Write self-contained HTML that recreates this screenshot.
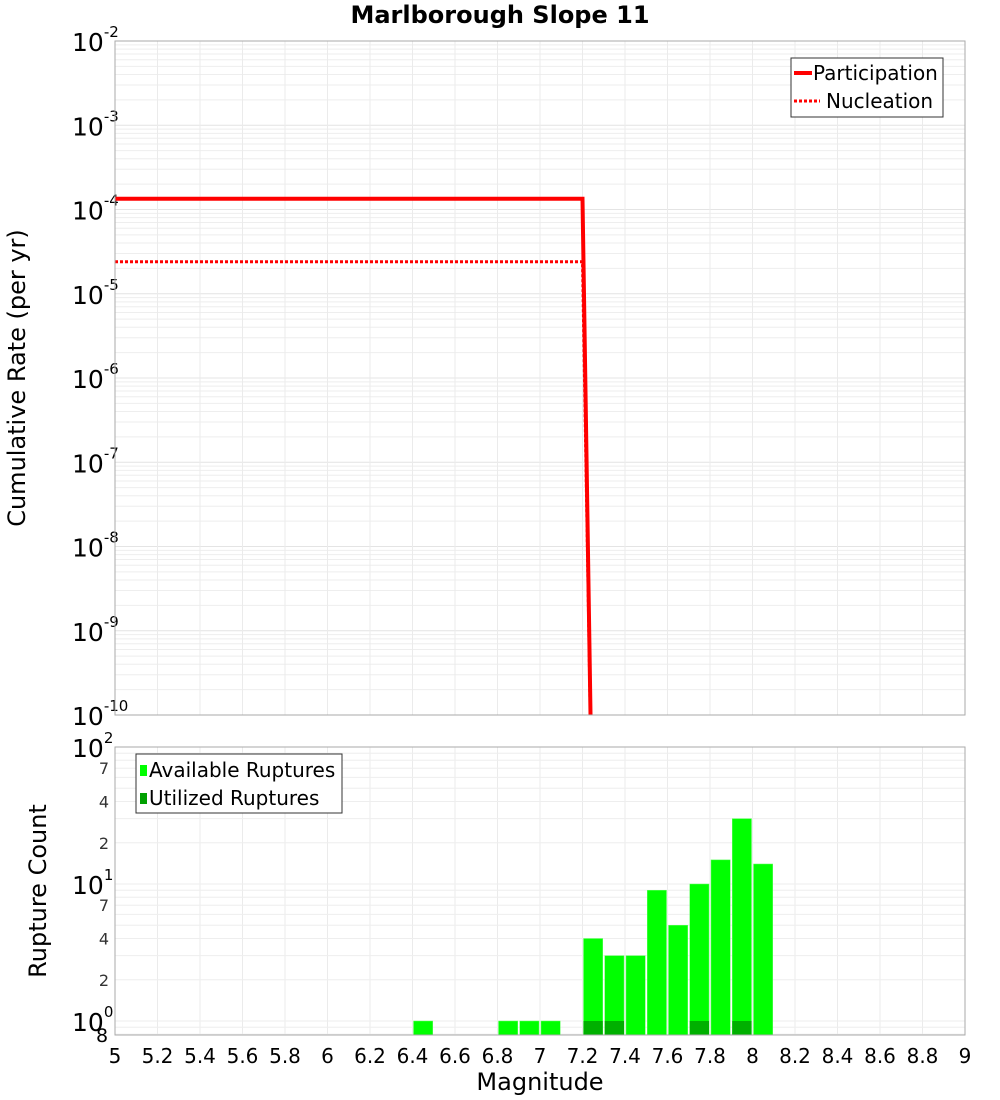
<!DOCTYPE html>
<html><head><meta charset="utf-8"><style>
body{margin:0;background:#fff;font-family:"Liberation Sans","DejaVu Sans",sans-serif}
svg{display:block}
</style></head><body>
<svg id="c" width="1000" height="1100" xmlns="http://www.w3.org/2000/svg" font-family="DejaVu Sans, Liberation Sans, sans-serif">
<text x="500" y="23" text-anchor="middle" font-size="24" font-weight="bold">Marlborough Slope 11</text>
<text transform="translate(25,378) rotate(-90)" text-anchor="middle" font-size="24">Cumulative Rate (per yr)</text>
<text transform="translate(46,891) rotate(-90)" text-anchor="middle" font-size="24">Rupture Count</text>
<text x="540" y="1090" text-anchor="middle" font-size="24">Magnitude</text>
<g id="topg"></g><g id="botg"></g>
</svg>
<script>
const partMags=[5,7.2,7.25];
const partVals=[1.34e-4,1.34e-4,1e-12];
const nuclMags=[5,7.2,7.25];
const nuclVals=[2.4e-5,2.4e-5,1e-12];
const binCenters=[6.45,6.85,6.95,7.05,7.25,7.35,7.45,7.55,7.65,7.75,7.85,7.95,8.05];
const availCounts=[1,1,1,1,4,3,3,9,5,10,15,30,14];
const utilCounts=[0,0,0,0,1,1,0,0,0,1,0,1,0];
const xTicks=[5,5.2,5.4,5.6,5.8,6,6.2,6.4,6.6,6.8,7,7.2,7.4,7.6,7.8,8,8.2,8.4,8.6,8.8,9];
const topExps=[-2,-3,-4,-5,-6,-7,-8,-9,-10];
const botMinor=[2,4,7];

const NS='http://www.w3.org/2000/svg';
function mk(p,t,a){const e=document.createElementNS(NS,t);for(const k in a)e.setAttribute(k,a[k]);p.appendChild(e);return e;}
const L=115,R=965;
const X=m=>L+(m-5)/4*(R-L);
const tT=41,tB=715;
const Yt=v=>tT+(-2-Math.log10(v))/8*(tB-tT);
const bT=747,bB=1035,b0=1021,bd=137;
const Yb=v=>b0-Math.log10(v)*bd;

const gTop=document.getElementById('topg'),gBot=document.getElementById('botg');
for(let e=-10;e<-2;e++)for(let k=1;k<10;k++){const y=Yt(k*Math.pow(10,e));
 const l=mk(gTop,'line',{x1:L,x2:R,y1:y,y2:y,stroke:k==1?'#e4e4e4':'#eeeeee','stroke-width':1});
 
 }
xTicks.forEach(t=>{[gTop,gBot].forEach((g,i)=>{const l=mk(g,'line',{x1:X(t),x2:X(t),y1:i?bT:tT,y2:i?bB:tB,stroke:'#ebebeb'});
 
 });});
topExps.forEach(e=>{const y=Yt(Math.pow(10,e));
 const t=mk(gTop,'text',{x:72,y:y+10,'font-size':25});t.textContent='10';
 
 
 const s=mk(t,'tspan',{dy:-14,'font-size':15});s.textContent=String(e);});
const clip=mk(gTop,'clipPath',{id:'tc'});mk(clip,'rect',{x:L,y:tT,width:R-L,height:tB-tT});
function path(ms,vs){return ms.map((m,i)=>(i?'L':'M')+X(m)+','+Yt(vs[i])).join(' ');}
let p=mk(gTop,'path',{d:path(nuclMags,nuclVals),fill:'none',stroke:'#ff0000','stroke-width':3,'stroke-dasharray':'3,2','clip-path':'url(#tc)'});


p=mk(gTop,'path',{d:path(partMags,partVals),fill:'none',stroke:'#ff0000','stroke-width':4,'clip-path':'url(#tc)'});


let b=mk(gTop,'rect',{x:L,y:tT,width:R-L,height:tB-tT,fill:'none',stroke:'#aaaaaa'});


const lg=mk(gTop,'g',{});


mk(lg,'rect',{x:791,y:58,width:152,height:59,fill:'#fff',stroke:'#333'});
mk(lg,'line',{x1:794,x2:812,y1:73,y2:73,stroke:'#f00','stroke-width':4});
mk(lg,'line',{x1:794,x2:820,y1:101,y2:101,stroke:'#f00','stroke-width':3,'stroke-dasharray':'3,2'});
let tx=mk(lg,'text',{x:813,y:80,'font-size':20});tx.textContent='Participation';


tx=mk(lg,'text',{x:826,y:108,'font-size':20});tx.textContent='Nucleation';


for(let e=-1;e<2;e++)for(let k=1;k<10;k++){const y=Yb(k*Math.pow(10,e));if(y<bT||y>bB)continue;
 const l=mk(gBot,'line',{x1:L,x2:R,y1:y,y2:y,stroke:'#eeeeee'});
 
 }
[0,1,2].forEach(e=>{const y=Yb(Math.pow(10,e));
 const t=mk(gBot,'text',{x:72,y:y+10,'font-size':25});t.textContent='10';
 
 
 const s=mk(t,'tspan',{dy:-14,'font-size':15});s.textContent=String(e);});
[0,1].forEach(e=>botMinor.forEach(k=>{const y=Yb(k*Math.pow(10,e));
 const t=mk(gBot,'text',{x:104,y:y+6,'font-size':16,'text-anchor':'middle',fill:'#333'});t.textContent=k;
 
 }));
let t8=mk(gBot,'text',{x:102,y:1042,'font-size':19,'text-anchor':'middle'});t8.textContent='8';


binCenters.forEach((c,i)=>{const x0=X(c-0.05)+1,w=X(c+0.05)-X(c-0.05)-2;
 let y=Yb(availCounts[i]);
 const r=mk(gBot,'rect',{x:x0,y:y,width:w,height:bB-y,fill:'#00ff00',stroke:'#66ff66','stroke-width':0.5});
 
 
 if(utilCounts[i]>0){y=Yb(utilCounts[i]);
  const u=mk(gBot,'rect',{x:x0,y:y,width:w,height:bB-y,fill:'#00b000'});
  
  }});
b=mk(gBot,'rect',{x:L,y:bT,width:R-L,height:bB-bT,fill:'none',stroke:'#aaaaaa'});


xTicks.forEach(t=>{const tx=mk(gBot,'text',{x:X(t),y:1063,'font-size':20,'text-anchor':'middle'});tx.textContent=String(t);
 
 });
const bl=mk(gBot,'g',{});


mk(bl,'rect',{x:136,y:754,width:206,height:59,fill:'#fff',stroke:'#333'});
mk(bl,'rect',{x:140,y:765,width:7,height:11,fill:'#00ff00'});
mk(bl,'rect',{x:140,y:793,width:7,height:11,fill:'#00a000'});
tx=mk(bl,'text',{x:149,y:777,'font-size':20});tx.textContent='Available Ruptures';


tx=mk(bl,'text',{x:149,y:805,'font-size':20});tx.textContent='Utilized Ruptures';


</script>
</body></html>
